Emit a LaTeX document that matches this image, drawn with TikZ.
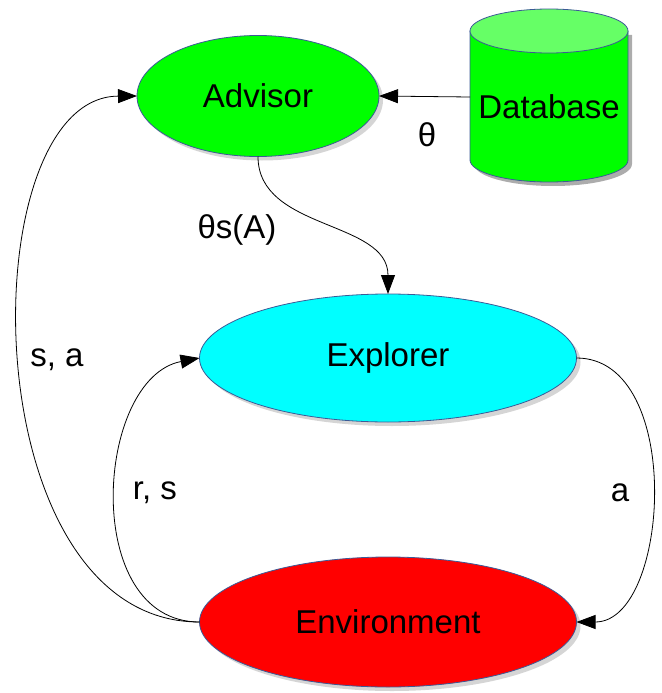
\documentclass[tikz,border=0pt]{standalone}
\usepackage{fontspec}
\setmainfont{Liberation Sans}
\usetikzlibrary{shapes.geometric,arrows.meta,shadows}

\definecolor{rim}{RGB}{60,90,150}
\definecolor{dbtop}{RGB}{102,255,102}
\definecolor{advgreen}{RGB}{0,255,0}
\definecolor{expcyan}{RGB}{0,255,255}
\definecolor{envred}{RGB}{255,0,0}

\tikzset{
  agent/.style={ellipse, draw=rim, line width=0.8pt, outer sep=0pt,
    drop shadow={shadow xshift=4pt, shadow yshift=-4pt, fill=gray!65},
    font=\fontsize{33}{38}\selectfont},
  link/.style={draw, line width=0.8pt, -{Triangle[length=19pt,width=14pt]}},
  tag/.style={font=\fontsize{33}{38}\selectfont}
}

\begin{document}
\begin{tikzpicture}[x=1pt,y=-1pt]
\useasboundingbox (0,0) rectangle (661,693);

%the three agents
\node[agent, fill=advgreen, minimum width=242pt, minimum height=121pt] (adv) at (258,96) {Advisor};
\node[agent, fill=expcyan, minimum width=377pt, minimum height=128pt] (exp) at (388,358) {Explorer};
\node[agent, fill=envred, minimum width=377pt, minimum height=130pt] (env) at (388,622) {Environment};

%database drawn as a cylinder
\fill[gray!65] (474,35) -- (474,164) arc[start angle=180,end angle=0,x radius=79,y radius=22] -- (632,35) -- cycle;
\filldraw[fill=advgreen, draw=rim, line width=0.8pt] (470,31) -- (470,160) arc[start angle=180,end angle=0,x radius=79,y radius=22] -- (628,31);
\filldraw[fill=dbtop, draw=rim, line width=0.8pt] (549,31) ellipse[x radius=79,y radius=22];
\node[tag, inner sep=0pt] (db) at (549,107) {Database};
\coordinate (dbw) at (470,97);

%connectors
\draw[link] (dbw) -- (adv.east);
\draw[link] (adv.south) to[out=-90,in=90] (exp.north);
\draw[link] (env.west) .. controls (-30,622) and (-30,97) .. (adv.west);
\draw[link] (env.west) .. controls (80,622) and (95,378) .. (exp.west);
\draw[link] (exp.east) .. controls (685,358) and (670,622) .. (env.east);

%labels
\node[tag] (lth) at (427,135) {θ};
\node[tag] (lths) at (237,230) {θs(A)};
\node[tag] (lsa) at (57,360) {s, a};
\node[tag] (lrs) at (155,493) {r, s};
\node[tag] (la) at (620,493) {a};

\end{tikzpicture}
\end{document}
